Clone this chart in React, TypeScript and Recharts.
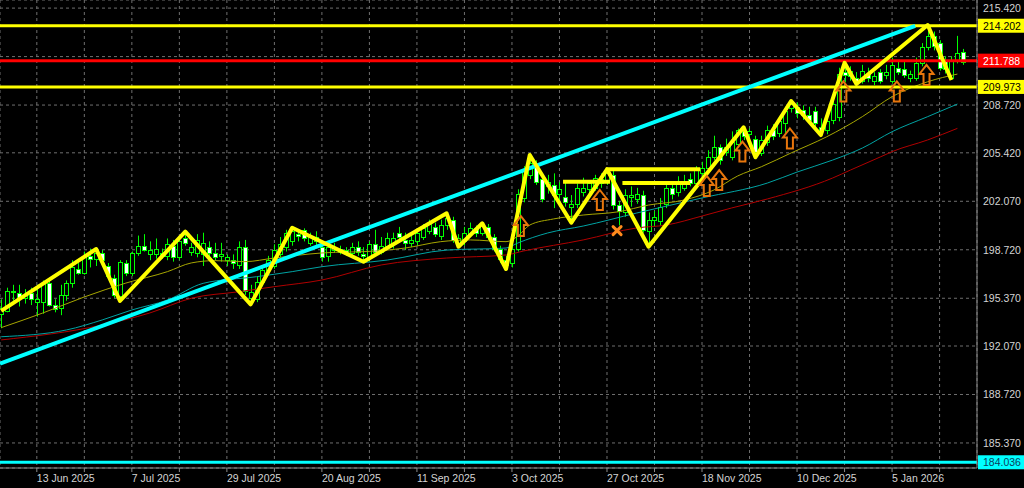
import React from "react";
import { Bar, CartesianGrid, ComposedChart, Line, ReferenceLine, Scatter, XAxis, YAxis } from "recharts";

// daily candles, [open, high, low, close]
const candles: [number, number, number, number][] = [
  [194.3, 195.3, 193.3, 194.7], [194.5, 196.1, 194.4, 195.9], [195.9, 196.3, 195.2, 195.8], [195.7, 196.3, 194.8, 195.4],
  [195.4, 196.0, 195.0, 195.6], [195.7, 196.1, 194.9, 195.3], [195.1, 196.3, 194.1, 195.3], [195.1, 196.6, 194.3, 196.4],
  [196.4, 196.7, 194.8, 194.9], [194.9, 195.3, 194.4, 194.6], [194.7, 196.3, 194.2, 195.6], [195.6, 196.6, 195.2, 196.4],
  [196.4, 198.0, 196.1, 197.5], [197.4, 197.8, 197.0, 197.1], [197.1, 198.6, 197.0, 198.3], [198.3, 198.8, 197.5, 198.1],
  [198.1, 198.8, 197.6, 198.5], [198.5, 198.7, 197.8, 198.0], [197.6, 197.8, 196.7, 196.9], [196.8, 197.0, 195.4, 195.6],
  [195.5, 198.0, 195.2, 197.9], [197.8, 198.0, 196.9, 197.1], [197.1, 198.6, 196.9, 198.5], [198.5, 199.7, 198.3, 199.0],
  [199.0, 199.8, 198.6, 198.7], [198.4, 199.3, 198.0, 198.7], [198.4, 199.5, 198.1, 198.8], [198.5, 198.8, 198.1, 198.3],
  [198.3, 199.5, 198.0, 199.1], [199.0, 199.4, 197.9, 198.2], [198.2, 199.6, 198.0, 199.3], [199.5, 199.97, 199.0, 199.2],
  [198.6, 199.2, 198.3, 198.9], [198.5, 199.8, 198.2, 199.4], [198.4, 199.9, 197.6, 199.2], [198.9, 199.3, 198.2, 198.5],
  [198.5, 199.2, 198.0, 198.2], [198.3, 199.2, 197.9, 198.4], [198.0, 198.4, 197.6, 198.2], [198.0, 198.4, 197.4, 197.8],
  [197.7, 199.3, 197.4, 198.9], [198.9, 199.4, 195.6, 195.9], [195.4, 196.3, 194.95, 195.8], [195.3, 196.9, 195.1, 196.5],
  [196.5, 197.6, 196.2, 197.3], [197.3, 198.3, 197.0, 198.0], [197.6, 199.1, 197.4, 198.7], [198.4, 199.6, 198.2, 199.1],
  [198.9, 200.1, 198.6, 199.9], [199.3, 200.24, 199.0, 200.0], [199.8, 200.1, 199.3, 199.7], [200.1, 200.2, 199.3, 199.5],
  [199.2, 199.9, 199.0, 199.6], [199.6, 200.0, 199.0, 199.3], [198.9, 199.1, 197.9, 198.2], [198.3, 199.3, 197.9, 198.9],
  [198.7, 199.2, 198.5, 198.9], [198.6, 199.0, 198.4, 198.8], [198.7, 198.9, 198.3, 198.5], [198.5, 199.2, 198.3, 198.9],
  [198.9, 199.3, 198.3, 198.6], [198.4, 198.9, 197.89, 198.3], [198.2, 199.3, 197.9, 199.1], [199.1, 200.1, 198.4, 198.6],
  [198.6, 199.6, 198.4, 199.0], [199.0, 199.9, 198.8, 199.5], [199.2, 199.9, 198.8, 199.5], [199.9, 200.3, 199.2, 199.6],
  [199.4, 199.9, 198.7, 199.2], [199.2, 199.8, 198.9, 199.4], [199.3, 200.2, 199.0, 199.9], [199.6, 200.5, 199.4, 200.2],
  [200.0, 200.8, 199.8, 200.5], [200.3, 200.6, 199.6, 199.8], [199.7, 200.8, 199.4, 200.4], [200.4, 201.24, 200.1, 200.9],
  [200.8, 201.0, 199.2, 199.4], [199.2, 199.8, 198.93, 199.5], [199.3, 200.3, 199.0, 199.9], [199.8, 200.6, 199.6, 200.2],
  [200.2, 200.4, 199.6, 199.9], [199.9, 200.55, 199.7, 200.4], [200.3, 200.5, 199.4, 199.6], [199.6, 199.8, 198.6, 198.8],
  [198.8, 199.0, 197.8, 198.1], [198.0, 198.3, 197.39, 197.7], [197.8, 199.0, 197.5, 198.8], [198.8, 202.9, 198.6, 202.6],
  [202.3, 204.5, 202.0, 204.2], [203.9, 205.27, 203.6, 204.7], [204.6, 204.9, 203.2, 203.4], [203.6, 203.8, 202.0, 202.2],
  [203.1, 203.9, 202.6, 203.4], [203.2, 204.0, 201.6, 202.5], [202.6, 203.4, 202.1, 202.9], [202.4, 203.4, 201.7, 202.0],
  [201.7, 202.5, 200.59, 201.9], [201.9, 203.3, 201.6, 203.0], [202.7, 203.7, 202.4, 203.0], [202.9, 203.5, 202.6, 203.3],
  [203.0, 203.9, 202.8, 203.7], [203.6, 204.0, 203.0, 203.3], [203.4, 204.28, 203.2, 204.0], [203.9, 204.2, 201.5, 201.8],
  [201.8, 202.1, 200.4, 201.4], [201.3, 202.9, 201.0, 202.5], [202.4, 203.1, 201.7, 202.5], [202.2, 203.0, 201.9, 202.6],
  [202.5, 202.8, 199.9, 200.1], [200.0, 201.3, 198.93, 200.8], [200.8, 201.4, 200.3, 201.0], [200.7, 202.3, 200.4, 201.7],
  [201.9, 203.4, 201.6, 203.0], [203.0, 203.3, 202.2, 202.6], [202.7, 203.8, 202.4, 203.3], [203.0, 203.9, 202.8, 203.5],
  [203.6, 204.0, 203.1, 203.3], [203.3, 204.5, 203.0, 204.2], [204.0, 204.8, 203.6, 204.4], [204.4, 205.6, 204.1, 205.1],
  [205.1, 206.6, 204.9, 205.8], [205.8, 206.0, 204.6, 204.9], [205.5, 206.4, 205.2, 205.8], [205.1, 206.9, 204.9, 206.2],
  [206.0, 207.1, 205.8, 207.0], [206.9, 207.18, 206.3, 206.6], [206.7, 207.1, 206.3, 206.9], [206.4, 206.6, 205.11, 205.5],
  [205.4, 206.6, 205.2, 206.3], [206.2, 207.3, 205.9, 207.0], [207.0, 207.4, 206.3, 206.6], [206.8, 207.9, 206.5, 207.6],
  [207.5, 208.6, 206.8, 208.3], [208.5, 209.0, 208.2, 208.8], [208.6, 208.9, 207.8, 208.2], [208.4, 208.7, 207.7, 208.0],
  [208.0, 208.6, 207.5, 207.7], [208.3, 208.6, 207.2, 207.5], [207.2, 207.8, 206.65, 206.9], [207.0, 207.9, 206.7, 207.6],
  [207.7, 209.3, 207.4, 208.8], [207.9, 211.3, 207.6, 210.9], [211.0, 211.64, 210.3, 210.8], [211.1, 211.4, 210.4, 210.7],
  [210.6, 211.0, 210.17, 210.3], [210.4, 211.5, 210.2, 211.1], [210.9, 211.3, 210.3, 210.6], [210.4, 211.0, 210.1, 210.7],
  [211.0, 211.2, 210.2, 210.4], [210.8, 211.5, 210.5, 211.0], [210.4, 212.0, 210.2, 211.5], [211.3, 211.8, 210.8, 211.0],
  [211.2, 211.7, 210.6, 210.8], [210.6, 211.1, 210.3, 210.9], [210.6, 212.0, 210.4, 211.6], [211.6, 213.0, 211.4, 212.7],
  [212.7, 214.25, 212.5, 213.5], [213.5, 213.8, 212.5, 212.8], [213.0, 213.2, 211.1, 211.3], [211.8, 212.1, 210.9, 211.2],
  [210.6, 212.1, 210.45, 211.8], [211.8, 213.5, 211.6, 212.3], [212.4, 212.6, 211.5, 211.7],
];

// zigzag swing points [candle index, price]
const zigzag: [number, number][] = [
  [0, 194.5], [16, 198.77], [20, 195.18], [31, 199.97], [42, 194.95], [49, 200.24], [61, 197.89],
  [75, 201.24], [77, 198.93], [81, 200.55], [85, 197.39], [89, 205.27], [96, 200.59], [102, 204.28],
  [109, 198.93], [125, 207.18], [127, 205.11], [133, 209.0], [138, 206.65], [142, 211.64], [144, 210.17],
  [156, 214.25], [160, 210.45],
];

// moving averages read at some candles [index, price]
const maFast: [number, number][] = [
  [0, 193.34], [7, 194.35], [14, 195.46], [21, 196.42], [28, 197.21], [32, 197.81], [36, 197.97], [41, 197.9],
  [46, 198.15], [54, 198.5], [63, 198.63], [68, 198.84], [74, 199.28], [79, 199.4], [85, 199.28], [87, 199.67],
  [89, 200.43], [93, 200.85], [98, 201.12], [104, 201.35], [109, 201.81], [115, 202.16], [120, 202.85],
  [124, 203.82], [128, 204.46], [133, 205.41], [139, 206.53], [145, 207.92], [150, 209.3], [156, 210.33], [161, 210.86],
];
const maMid: [number, number][] = [
  [0, 192.71], [11, 193.18], [17, 193.87], [22, 194.56], [28, 195.25], [34, 196.4], [43, 196.86], [49, 197.21],
  [54, 197.55], [65, 198.01], [75, 198.7], [85, 198.84], [87, 199.19], [92, 199.88], [98, 200.36], [107, 201.26],
  [118, 202.3], [129, 203.33], [134, 204.09], [140, 204.92], [145, 205.75], [150, 206.88], [156, 207.92], [161, 208.79],
];
const maSlow: [number, number][] = [
  [0, 192.49], [17, 193.52], [25, 194.35], [32, 195.37], [40, 195.82], [46, 196.17], [54, 196.63], [64, 197.67],
  [75, 198.15], [85, 198.36], [88, 198.64], [98, 199.4], [107, 200.23], [112, 200.43], [118, 201.05], [123, 201.61],
  [129, 202.23], [140, 203.68], [143, 204.23], [148, 205.13], [150, 205.5], [156, 206.31], [161, 207.11],
];

const trendLine: [number, number][] = [[-0.2, 190.86], [153.9, 214.2]];
// [from index, to index, price]
const flatLines: [number, number, number][] = [[94.6, 102.5, 203.42], [101.8, 117.7, 204.28], [104.6, 116.0, 203.33]];
const upArrows: [number, number][] = [
  [87.5, 200.36], [100.8, 202.16], [118.8, 203.13], [120.9, 203.54], [124.8, 205.51],
  [132.8, 206.41], [141.8, 209.66], [150.8, 209.66], [155.8, 210.8],
];
const crossMarks: [number, number][] = [[103.7, 200.04]];

const levelTop = 214.202;
const levelRed = 211.788;
const levelLow = 209.973;
const levelBottom = 184.036;

const priceTicks = [215.42, 212.07, 208.72, 205.42, 202.07, 198.72, 195.37, 192.07, 188.72, 185.37];
const xTicks = [6, 14, 22, 30, 38, 46, 54, 62, 70, 78, 86, 94, 102, 110, 118, 126, 134, 142, 150, 158];
const xTickLabels = [
  "13 Jun 2025", "", "7 Jul 2025", "", "29 Jul 2025", "", "20 Aug 2025", "", "11 Sep 2025", "",
  "3 Oct 2025", "", "27 Oct 2025", "", "18 Nov 2025", "", "10 Dec 2025", "", "5 Jan 2026", "",
];

const rows: any[] = candles.map(([o, h, l, c], i) => ({ i, range: [l, h], o, c }));
zigzag.forEach(([i, p]) => (rows[i].zz = p));
maFast.forEach(([i, p]) => (rows[i].maFast = p));
maMid.forEach(([i, p]) => (rows[i].maMid = p));
maSlow.forEach(([i, p]) => (rows[i].maSlow = p));

const FONT = "'Liberation Sans', Arial, sans-serif";
const W = 1024;
const H = 488;

const Candle = (props: any) => {
  const { x, y, width, height, payload } = props;
  const [lo, hi] = payload.range;
  const yTop = Math.min(y, y + height);
  const h = Math.abs(height);
  const py = (v: number) => yTop + ((hi - v) / (hi - lo || 1)) * h;
  const cx = Math.round(x + width / 2) + 0.5;
  const top = Math.round(py(Math.max(payload.o, payload.c))) + 0.5;
  const bot = Math.round(py(Math.min(payload.o, payload.c))) + 0.5;
  const bull = payload.c >= payload.o;
  return (
    <g>
      <line x1={cx} x2={cx} y1={yTop} y2={yTop + h} stroke="#00ff00" strokeWidth={1} />
      <rect x={cx - 2} y={top} width={4} height={Math.max(bot - top, 1)} fill={bull ? "#000000" : "#ffffff"} stroke="#00ff00" strokeWidth={1} />
    </g>
  );
};

const UpArrow = (props: any) => {
  const { cx, cy } = props;
  const pts = [
    [cx, cy - 10], [cx + 7, cy - 1], [cx + 3, cy - 1], [cx + 3, cy + 10],
    [cx - 3, cy + 10], [cx - 3, cy - 1], [cx - 7, cy - 1],
  ].map((p) => p.join(",")).join(" ");
  return <polygon points={pts} fill="none" stroke="#e8760c" strokeWidth={2} strokeLinejoin="miter" />;
};

const Cross = (props: any) => {
  const { cx, cy } = props;
  return (
    <g stroke="#ff8a1c" strokeWidth={3} strokeLinecap="round">
      <line x1={cx - 4} y1={cy - 4} x2={cx + 4} y2={cy + 4} />
      <line x1={cx - 4} y1={cy + 4} x2={cx + 4} y2={cy - 4} />
    </g>
  );
};

const priceTag = (value: number, bg: string, fg: string) => (props: any) => {
  const vb = props.viewBox || {};
  const right = (vb.x ?? 0) + (vb.width ?? 0);
  const y = vb.y ?? 0;
  return (
    <g>
      <rect x={right + 1} y={y - 7} width={W - right - 1} height={14} fill={bg} />
      <text x={right + 6} y={y + 4} fill={fg} fontSize={10.5} fontFamily={FONT}>
        {value.toFixed(3)}
      </text>
    </g>
  );
};

const DateTick = (props: any) => {
  const { x, y, payload } = props;
  const label = xTickLabels[xTicks.indexOf(payload.value)] || "";
  return (
    <text x={x} y={y + 9} fill="#d4d4d4" fontSize={10.5} fontFamily={FONT} textAnchor="start">
      {label}
    </text>
  );
};

// the price tags sit on top of the axis labels, so a label under a tag is not drawn
const PriceTick = (props: any) => {
  const { x, y, payload } = props;
  const v = Number(payload.value);
  const covered = [levelTop, levelRed, levelLow, levelBottom].some((l) => Math.abs(l - v) < 0.5);
  if (covered) return <g />;
  return (
    <text x={x} y={y + 4} fill="#d4d4d4" fontSize={10.5} fontFamily={FONT} textAnchor="start">
      {v.toFixed(3)}
    </text>
  );
};

export default function App() {
  return (
    <div style={{ position: "fixed", left: 0, top: 0, width: W, height: H, background: "#000000" }}>
      <ComposedChart width={W} height={H} data={rows} margin={{ top: 0, right: 0, bottom: 0, left: 0 }}>
        <CartesianGrid stroke="#6f6f6f" strokeDasharray="3 3" />
        <XAxis
          dataKey="i"
          type="number"
          domain={[-0.2, 164.3]}
          allowDataOverflow
          ticks={xTicks}
          height={20}
          tick={<DateTick />}
          tickSize={4}
          tickMargin={1}
          stroke="#8a8a8a"
          interval={0}
        />
        <YAxis
          orientation="right"
          type="number"
          domain={[183.64, 215.98]}
          allowDataOverflow
          ticks={priceTicks}
          width={47}
          tick={<PriceTick />}
          tickLine={false}
          tickSize={0}
          tickMargin={6}
          stroke="#8a8a8a"
          interval={0}
        />
        <Line dataKey="maSlow" type="monotone" stroke="#b00000" strokeWidth={1} dot={false} activeDot={false} connectNulls isAnimationActive={false} />
        <Line dataKey="maMid" type="monotone" stroke="#00a3a3" strokeWidth={1} dot={false} activeDot={false} connectNulls isAnimationActive={false} />
        <Line dataKey="maFast" type="monotone" stroke="#a6a600" strokeWidth={1} dot={false} activeDot={false} connectNulls isAnimationActive={false} />
        <Bar dataKey="range" barSize={4} shape={<Candle />} activeBar={false} isAnimationActive={false} />
        <ReferenceLine y={levelTop} stroke="#ffff00" strokeWidth={3} label={priceTag(levelTop, "#ffff00", "#000000")} />
        <ReferenceLine y={levelRed} stroke="#ff0000" strokeWidth={3} label={priceTag(levelRed, "#ff0000", "#ffffff")} />
        <ReferenceLine y={levelLow} stroke="#ffff00" strokeWidth={3} label={priceTag(levelLow, "#ffff00", "#000000")} />
        <ReferenceLine y={levelBottom} stroke="#00ffff" strokeWidth={3} label={priceTag(levelBottom, "#00ffff", "#0d3c5c")} />
        <ReferenceLine
          segment={[{ x: trendLine[0][0], y: trendLine[0][1] }, { x: trendLine[1][0], y: trendLine[1][1] }]}
          stroke="#00ffff"
          strokeWidth={4}
        />
        {flatLines.map(([a, b, p], k) => (
          <ReferenceLine key={k} segment={[{ x: a, y: p }, { x: b, y: p }]} stroke="#ffff00" strokeWidth={4} />
        ))}
        <Line dataKey="zz" type="linear" stroke="#ffff00" strokeWidth={4} strokeLinejoin="round" dot={false} activeDot={false} connectNulls isAnimationActive={false} />
        <Scatter data={upArrows.map(([i, p]) => ({ i, p }))} dataKey="p" shape={<UpArrow />} isAnimationActive={false} />
        <Scatter data={crossMarks.map(([i, p]) => ({ i, p }))} dataKey="p" shape={<Cross />} isAnimationActive={false} />
      </ComposedChart>
    </div>
  );
}
